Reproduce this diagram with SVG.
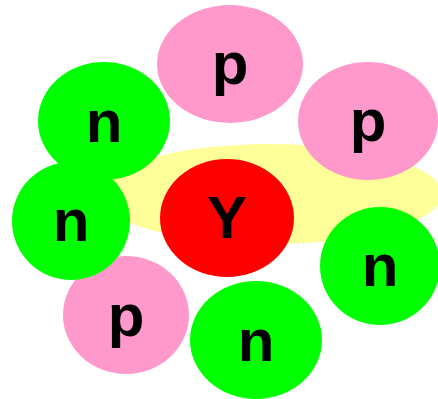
<svg xmlns="http://www.w3.org/2000/svg" width="438" height="399" viewBox="0 0 438 399">
<style>
.p{fill:#ff99cc}
.n{fill:#00ff00}
.y{fill:#ff0000}
text{font-family:"Liberation Sans",Arial,sans-serif;font-weight:bold;font-size:60px;text-anchor:middle;fill:#000}
</style>
<rect width="438" height="399" fill="#fff"/>
<g id="cloud"><ellipse cx="270" cy="194" rx="172" ry="50" fill="#ffff99"/></g>
<g id="connectors"></g>
<g id="p1"><ellipse class="p" cx="230" cy="64" rx="73" ry="59"/><text x="230" y="84">p</text></g>
<g id="p2"><ellipse class="p" cx="368" cy="121" rx="70" ry="59"/><text x="368" y="141">p</text></g>
<g id="Y"><ellipse class="y" cx="227" cy="218" rx="67" ry="59"/><text x="227" y="238">Y</text></g>
<g id="p3"><ellipse class="p" cx="126" cy="315" rx="63" ry="59"/><text x="126" y="336">p</text></g>
<g id="n1"><ellipse class="n" cx="104" cy="121" rx="66" ry="59"/><text x="104" y="142">n</text></g>
<g id="n2"><ellipse class="n" cx="71" cy="221" rx="59" ry="59"/><text x="71" y="241">n</text></g>
<g id="n3"><ellipse class="n" cx="380" cy="266" rx="60" ry="59"/><text x="380" y="286">n</text></g>
<g id="n4"><ellipse class="n" cx="256" cy="340" rx="66" ry="59"/><text x="256" y="361">n</text></g>
</svg>
